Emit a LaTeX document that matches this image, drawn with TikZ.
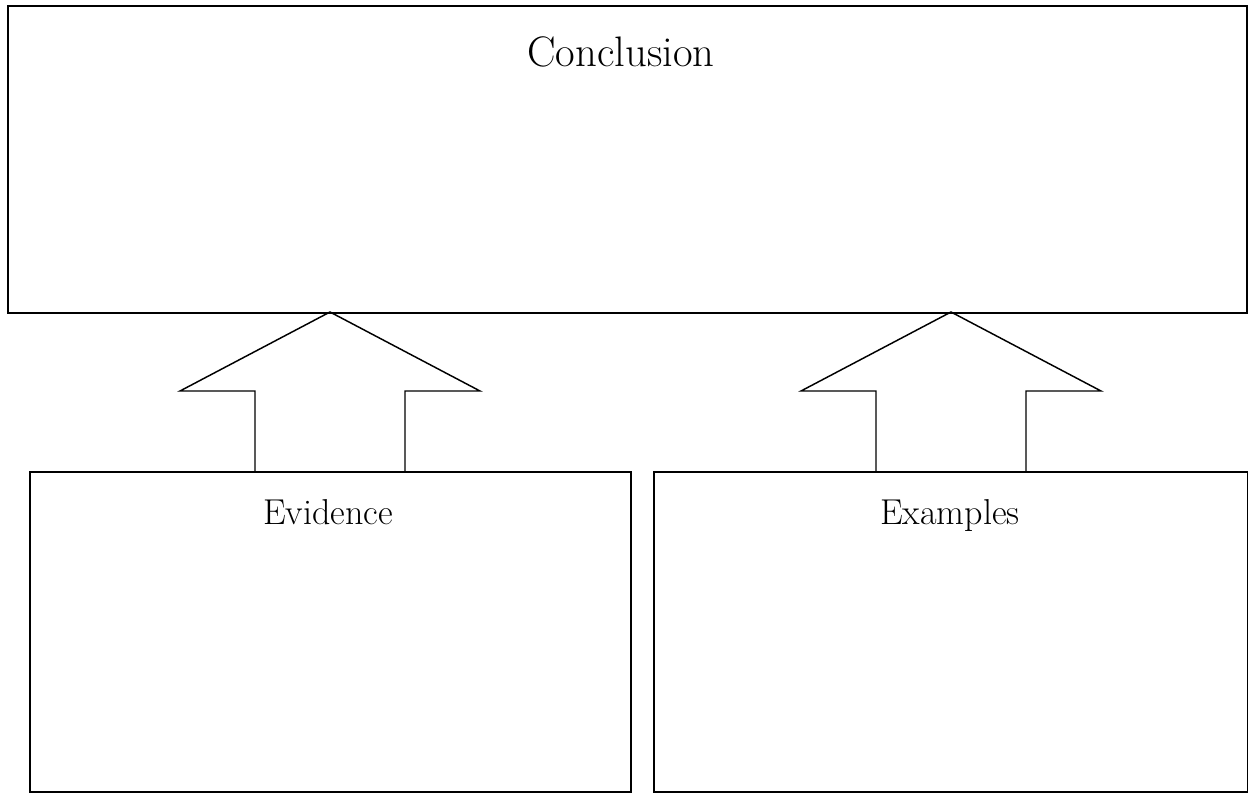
\documentclass[tikz,border=0pt]{standalone}
\usepackage{tikz}
\usetikzlibrary{positioning, calc}
\tikzset{
  panel/.style={draw=black, line width=1.2pt, anchor=north west, inner sep=0pt},
  paneltitle/.style={anchor=base, inner sep=0pt},
  blockarrow/.style={draw=black, line width=1.1pt, line join=miter}
}
\begin{document}
\begin{tikzpicture}[x=0.75pt, y=-0.75pt]
        \useasboundingbox (0,0) rectangle (1248,792);
        % Boxes
        \node[panel, minimum width=1239*0.75pt, minimum height=307*0.75pt] (concl) at (7,5) {};
        \node[panel, minimum width=601*0.75pt, minimum height=320*0.75pt] (evid) at (29,471) {};
        \node[panel, minimum width=594*0.75pt, minimum height=320*0.75pt] (exam) at (653,471) {};
        % Titles
        \node[paneltitle, font=\fontsize{32}{38}\selectfont] (conclT) at (621,67) {Conclusion};
        \node[paneltitle, font=\fontsize{27}{32}\selectfont] (evidT) at (328,524) {Evidence};
        \node[paneltitle, font=\fontsize{27}{32}\selectfont] (examT) at (950,524) {Examples};
        % Block arrows from lower boxes up to conclusion
        \foreach \cx in {330,951}{
          \draw[blockarrow] (\cx-75,471) -- (\cx-75,391) -- (\cx-150,391) -- (\cx,312)
            -- (\cx+150,391) -- (\cx+75,391) -- (\cx+75,471);}
      \end{tikzpicture}
\end{document}
